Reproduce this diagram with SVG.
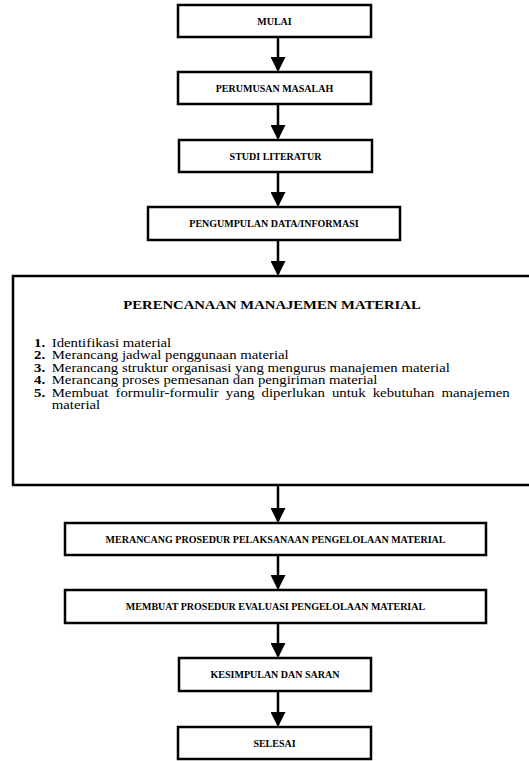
<svg xmlns="http://www.w3.org/2000/svg" width="529" height="761" viewBox="0 0 529 761">
<defs>
<style>
text{font-family:'Liberation Serif','DejaVu Serif','Times New Roman',serif;fill:#000}
.box{fill:#fff;stroke:#000;stroke-width:2.5}
.lbl{font-weight:bold;font-size:10px;text-anchor:middle}
.title{font-weight:bold;font-size:13px;text-anchor:middle}
.item{font-size:12.5px}
.num{font-weight:bold;font-size:12.5px}
.conn{stroke:#000;stroke-width:2.5;fill:none;marker-end:url(#ah)}
</style>
<marker id="ah" markerUnits="userSpaceOnUse" markerWidth="15" markerHeight="15" refX="13" refY="7.5" orient="auto" viewBox="0 0 15 15">
<path d="M0,0 L15,7.5 L0,15 z" fill="#000"/>
</marker>
</defs>
<rect width="529" height="761" fill="#fff"/>
<g id="connectors">
<line class="conn" x1="278" y1="37" x2="278" y2="70"/>
<line class="conn" x1="278" y1="104" x2="278" y2="138"/>
<line class="conn" x1="278" y1="172" x2="278" y2="205"/>
<line class="conn" x1="278" y1="240" x2="278" y2="274"/>
<line class="conn" x1="278" y1="485" x2="278" y2="521"/>
<line class="conn" x1="278" y1="555" x2="278" y2="588"/>
<line class="conn" x1="278" y1="623" x2="278" y2="656"/>
<line class="conn" x1="278" y1="691" x2="278" y2="725"/>
</g>
<g id="mulai">
<rect class="box" x="178" y="5" width="193" height="32"/>
<text class="lbl" x="274.5" y="24.5">MULAI</text>
</g>
<g id="perumusan">
<rect class="box" x="178" y="72" width="193" height="32"/>
<text class="lbl" x="274.5" y="91.5">PERUMUSAN MASALAH</text>
</g>
<g id="studi">
<rect class="box" x="179" y="140" width="193" height="32"/>
<text class="lbl" x="275.5" y="159.5">STUDI LITERATUR</text>
</g>
<g id="pengumpulan">
<rect class="box" x="148" y="207" width="252" height="33"/>
<text class="lbl" x="274" y="227">PENGUMPULAN DATA/INFORMASI</text>
</g>
<g id="perencanaan">
<rect class="box" x="13" y="276" width="530" height="209"/>
<text class="title" transform="translate(272,309) scale(1.13,1)">PERENCANAAN MANAJEMEN MATERIAL</text>
<text class="num" transform="translate(34,347) scale(1.185,1)">1.</text>
<text class="item" transform="translate(51.7,347) scale(1.185,1)">Identifikasi material</text>
<text class="num" transform="translate(34,359.4) scale(1.185,1)">2.</text>
<text class="item" transform="translate(51.7,359.4) scale(1.185,1)">Merancang jadwal penggunaan material</text>
<text class="num" transform="translate(34,371.8) scale(1.185,1)">3.</text>
<text class="item" transform="translate(51.7,371.8) scale(1.185,1)">Merancang struktur organisasi yang mengurus manajemen material</text>
<text class="num" transform="translate(34,384.2) scale(1.185,1)">4.</text>
<text class="item" transform="translate(51.7,384.2) scale(1.185,1)">Merancang proses pemesanan dan pengiriman material</text>
<text class="num" transform="translate(34,396.6) scale(1.185,1)">5.</text>
<text class="item" transform="translate(51.7,396.6) scale(1.185,1)" word-spacing="2.85">Membuat formulir-formulir yang diperlukan untuk kebutuhan manajemen</text>
<text class="item" transform="translate(51.7,409) scale(1.185,1)">material</text>
</g>
<g id="merancang">
<rect class="box" x="65" y="523" width="421" height="32"/>
<text class="lbl" x="275.5" y="542.5">MERANCANG PROSEDUR PELAKSANAAN PENGELOLAAN MATERIAL</text>
</g>
<g id="membuat">
<rect class="box" x="65" y="590" width="421" height="33"/>
<text class="lbl" x="275.5" y="610">MEMBUAT PROSEDUR EVALUASI PENGELOLAAN MATERIAL</text>
</g>
<g id="kesimpulan">
<rect class="box" x="179" y="658" width="192" height="33"/>
<text class="lbl" x="275" y="678">KESIMPULAN DAN SARAN</text>
</g>
<g id="selesai">
<rect class="box" x="178" y="727" width="193" height="32"/>
<text class="lbl" x="274.5" y="746.5">SELESAI</text>
</g>
</svg>
